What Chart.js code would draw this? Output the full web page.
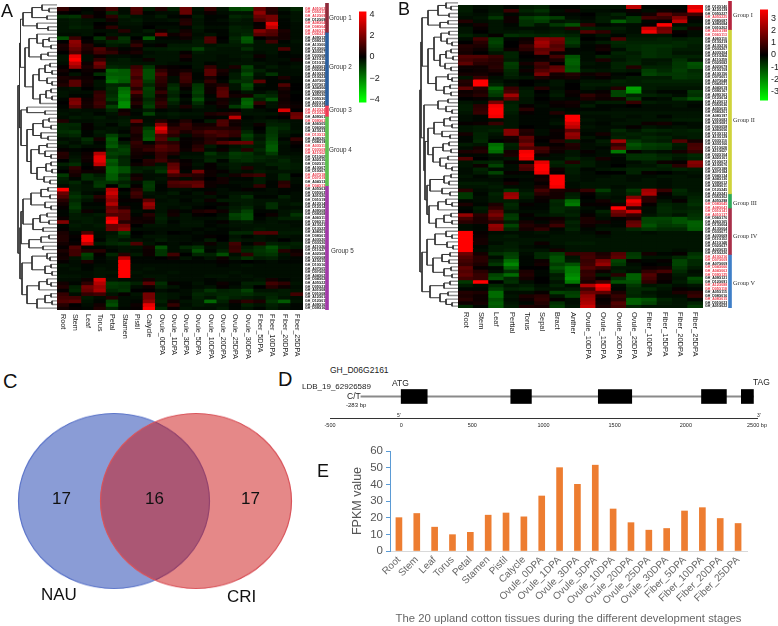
<!DOCTYPE html>
<html lang="en">
<head>
<meta charset="UTF-8">
<title>Cotton LBD genes</title>
<script src="https://cdn.jsdelivr.net/npm/chart.js"></script>
<style>
  body { margin: 0; background: #fff; font-family: "Liberation Sans", Arial, sans-serif; }
  canvas { position: absolute; }
  .t { position: absolute; white-space: nowrap; transform: translateY(-50%); color: #111; }
</style>
</head>
<body>
<script>
// heatmap values are log2 x 10
const tissuesA = ['Root','Stem','Leaf','Torus','Petal','Stamen','Pistil','Calycle','Ovule_0DPA','Ovule_1DPA','Ovule_3DPA','Ovule_5DPA','Ovule_10DPA','Ovule_20DPA','Ovule_25DPA','Ovule_30DPA','Fiber_5DPA','Fiber_10DPA','Fiber_20DPA','Fiber_25DPA'];
const heatA = [
[8,2,-1,3,10,-2,12,-4,5,-5,16,-3,8,-3,-11,-12,16,6,-3,-6],
[1,0,-2,1,-6,-2,11,-1,-2,-2,16,-2,2,-2,-3,-3,22,5,-1,-3],
[-7,-8,5,1,7,-5,-3,-2,-4,-1,1,-4,-1,-1,-6,-5,16,18,-2,-3],
[-3,-4,-3,-3,3,-3,-4,-2,-2,-3,5,-3,-1,-2,-4,-3,12,18,-1,-3],
[-3,-4,-3,0,-1,-3,-3,-1,-1,-1,6,-3,-1,-1,-3,-3,1,36,-1,-2],
[-3,-5,-4,1,7,-2,-2,0,-2,-2,-1,-4,-2,-2,-5,-4,2,30,-1,-2],
[-3,-3,-3,-2,-2,6,-2,-4,2,-3,3,-3,-1,-1,-5,-5,20,14,4,-2],
[-2,-2,-3,0,-3,-2,-3,-2,18,2,5,-2,-3,-1,-4,-6,14,12,3,-2],
[-12,9,0,-8,4,-8,0,-14,-1,-1,2,-3,12,0,-6,-14,0,4,3,-2],
[0,22,1,-3,-6,-7,3,-3,-2,-2,-2,-4,12,-1,-5,-13,-3,10,-1,-3],
[4,20,6,-1,-4,-3,8,-1,1,-4,-4,-4,-3,-4,-4,-4,-3,-3,-2,-2],
[3,16,5,12,4,-1,2,-4,-4,-5,-5,-10,-4,-3,-3,-7,-3,-3,12,-2],
[0,12,3,10,8,2,4,-2,-3,-3,1,-4,-3,-3,-3,-3,-2,-3,-1,-2],
[-3,36,-2,2,-2,-2,-1,-3,-3,-3,4,-3,-3,-2,-3,-4,2,-2,-1,-1],
[-3,40,-2,8,-3,-4,-2,2,-3,-3,1,-3,-3,-2,-2,-3,-1,-2,-2,2],
[-2,30,2,18,-4,-4,-3,-3,-3,-2,-2,-3,-1,-2,-3,-3,-3,-2,-1,-2],
[1,24,4,14,-6,-5,9,-8,2,1,0,-3,8,-2,4,-10,-2,-4,-2,-3],
[3,0,2,1,-16,-14,12,-12,7,2,3,-2,14,4,-2,-8,-5,-2,-2,-2],
[1,-3,1,-7,-14,-14,13,-12,12,2,9,-1,14,2,-4,-12,-3,-8,-2,-2],
[4,3,2,0,-16,-15,9,-12,8,-2,10,-1,4,0,-4,-8,-2,-1,4,-1],
[3,14,3,-3,-18,-14,13,-9,7,-2,9,-2,8,-1,-7,-7,14,-1,-1,-1],
[5,14,2,-3,-6,-5,12,-6,5,-6,4,-8,3,5,-3,-12,-2,-1,12,0],
[-2,-3,0,-2,-7,-16,6,-10,3,-8,1,-9,2,12,-3,-10,-1,-1,4,0],
[-3,-2,-2,7,-6,-18,14,-9,8,-6,-2,-10,2,14,1,-3,-2,-4,2,-1],
[-3,-1,-1,9,-7,-20,5,-9,3,-5,0,-8,-1,14,3,3,-8,-6,3,0],
[-1,18,2,8,-9,-18,3,-6,5,-8,-2,-12,-2,3,-2,-14,-5,-12,2,0],
[0,20,3,10,-4,-22,6,-8,8,-5,-1,-7,1,4,-3,-16,8,-3,3,1],
[-1,14,3,8,-10,-22,2,-10,6,-3,4,-4,-2,2,-9,-14,1,-3,4,2],
[-2,-3,-2,-2,-6,2,-2,-4,-1,-2,-1,-2,-2,-1,1,-3,-2,-1,34,0],
[-3,-2,-3,-1,-3,4,-1,-10,-3,-4,-3,-3,4,6,8,-3,-3,-3,3,16],
[-2,-4,-3,-4,-2,-3,-2,-2,-2,-3,-2,-2,1,-1,30,-1,-2,-1,0,18],
[5,-2,-2,-3,-3,-4,16,-2,6,1,5,0,-4,12,3,-2,-3,-4,-3,-2],
[-6,-6,1,-3,-1,-4,3,-3,22,3,9,3,3,12,2,-2,2,-5,-5,-2],
[-6,-5,1,-2,-3,-2,6,-9,36,8,8,5,6,6,5,-3,0,-8,-6,-2],
[-7,-8,-1,-4,-3,-1,6,-12,30,10,4,8,12,10,8,-6,-1,-8,-4,-3],
[-5,-6,-1,-3,-10,-4,3,-12,12,6,-2,5,8,11,7,-10,-4,-9,-3,-1],
[-2,-3,-7,3,-14,0,4,-14,14,-7,1,2,6,3,-1,-8,-3,-10,-1,8],
[-4,-2,-5,-1,-12,-4,8,-1,8,6,1,3,7,13,16,16,-5,-12,-3,2],
[-2,-4,-2,-2,-14,-8,6,6,14,10,1,6,-4,-1,-3,-5,-4,-14,-2,0],
[1,-1,0,1,-8,-10,4,8,12,10,2,8,-2,2,-4,6,-6,-14,-2,-1],
[6,-2,2,28,-10,-9,3,2,8,5,-2,-2,-8,-4,-9,-8,-4,-9,-2,-2],
[5,-3,3,36,-8,-5,2,-1,8,-1,-3,-3,-5,-5,-8,-7,-6,-5,-4,-3],
[0,-4,2,36,-14,-6,0,6,10,4,1,-2,-6,-1,-6,-7,-5,-4,-6,-3],
[-5,-7,-1,30,-12,-6,2,5,-3,14,2,-3,1,-3,-4,-3,-3,-5,-5,-4],
[-2,7,0,4,-16,-12,-4,-5,-6,16,1,-2,1,-2,-4,5,-3,-2,-5,-4],
[0,5,2,2,-16,-12,-5,-3,-8,22,-1,18,2,1,-3,-2,-4,-3,-3,-3],
[-9,3,-7,-4,-14,-6,2,-2,-2,10,8,6,2,-2,3,8,10,-2,-6,0],
[-5,-1,-7,-6,-14,-8,4,-2,-3,4,-2,4,0,3,-1,-1,-4,-2,-6,-2],
[-4,-6,-2,-8,-8,-5,-2,-8,-2,12,14,14,2,3,-2,-2,-4,-1,6,-2],
[-2,-4,-3,-9,0,-8,1,-9,-1,10,11,16,2,-1,-1,-2,8,-1,8,-1],
[40,-4,-3,-3,28,0,6,-8,-1,-2,-2,-1,-1,-2,-1,1,-1,-2,-1,-1],
[16,-6,-2,-1,32,-2,10,-3,-2,-4,-1,-3,2,-2,-3,-3,-2,-2,-1,-2],
[12,-8,-5,6,26,-1,8,-2,-3,-2,-2,-2,-3,-1,-4,-7,-1,-1,-5,-2],
[6,-6,-3,2,22,1,1,14,-2,-3,-1,-3,2,-4,-4,-4,-3,-3,-3,-2],
[3,-8,-1,-1,28,-1,-1,24,-3,-3,-2,-2,-1,1,-3,-4,-3,-7,-3,-4],
[1,-9,-2,-2,16,4,-1,20,-3,-2,-3,-1,0,-2,-4,-6,-2,-7,-2,-2],
[-1,-6,2,-1,18,14,-2,-1,-3,2,-1,4,6,2,-5,-10,-1,-1,-3,-4],
[-1,-4,-3,-4,12,12,-1,6,-4,3,-3,1,0,-2,-10,-12,0,2,-3,-8],
[2,-4,-4,-3,36,12,2,3,-5,-2,-3,-2,-2,-3,-9,-12,-1,-3,-5,-5],
[20,-3,-4,-3,40,6,3,2,-4,-1,-3,-3,-1,1,-3,-4,-2,-3,-2,-2],
[-1,-4,-3,-4,16,18,0,-3,-3,-2,-3,-3,-1,-2,-3,-3,-3,-3,-3,-2],
[1,-3,-3,-3,16,22,-2,-2,-2,-2,-2,-1,-2,-1,-2,-3,-4,-3,-3,-3],
[4,-1,12,-2,-3,-10,0,-1,-2,0,-1,-2,-1,-1,-6,-6,12,12,-4,-4],
[5,1,40,-2,-4,-6,-1,-3,-3,-2,-2,-1,1,0,-3,-1,-3,-2,-3,-2],
[5,0,40,-1,-5,-3,-3,-2,-4,-2,-2,-1,-4,0,-4,-3,-3,-2,0,-2],
[3,1,30,-4,-6,-7,12,-3,-1,-2,-1,-2,2,-3,10,-1,5,-5,-4,-5],
[1,12,-1,-1,-2,-3,-3,3,-12,-2,-6,-8,-2,-3,8,-4,-7,-12,-6,-4],
[4,10,5,6,-1,-3,-2,2,-8,-2,-3,-12,-1,-5,9,-6,-8,-10,6,2],
[2,10,-10,1,-6,6,-4,2,-8,10,0,-6,-5,-12,-2,7,-7,-8,-3,4],
[3,-3,-8,-1,-3,28,-1,-1,0,2,-3,-1,-3,2,-4,-8,-4,-5,-2,-1],
[1,-2,4,-1,-2,40,-1,-1,-1,-1,-1,-1,-1,1,-1,0,-1,-2,-1,-1],
[-3,-2,-1,-2,-2,40,-2,-2,-2,-2,-2,-2,-2,-1,-2,-3,-2,-2,-2,-2],
[-2,-3,-1,-3,-2,40,-2,-3,-2,-2,-2,-2,-2,-2,-2,-2,-2,-2,-2,-2],
[-2,-2,-2,-3,-3,40,-3,-2,-2,-3,-2,-2,-2,-2,-3,-2,-2,-2,-2,-2],
[-3,-3,-2,-3,-2,40,-2,-3,-3,-2,-2,-2,-3,-3,-2,-3,-2,-2,-2,-2],
[-2,-2,2,34,-3,-2,-2,3,-3,-2,-2,-2,-1,-2,-2,-2,-3,3,-1,-2],
[3,-1,7,28,-9,-8,-5,14,-7,1,-1,-3,-1,2,-1,-5,-5,10,7,-3],
[5,-5,18,24,-8,-7,-2,2,-5,-3,-1,-2,-3,1,-2,-4,0,6,2,-2],
[1,-6,16,26,-6,-8,0,0,-2,-1,-2,-4,-8,-5,-6,-10,-3,-3,-4,-3],
[8,-2,8,10,-3,1,-3,18,-4,-3,-2,-6,-5,-6,-6,-7,-5,-5,-4,10],
[10,10,-4,-2,5,-2,-2,18,-4,-3,-1,-5,-3,-7,-5,-4,-3,-6,-3,-2],
[12,14,-3,-1,-10,-2,-1,22,-5,2,-3,-4,-16,-5,3,7,4,-8,-14,-3],
[6,0,-2,3,-12,-2,2,36,-3,8,-2,-4,-3,-3,-1,-5,-3,-5,-3,-1],
[3,1,-1,5,-5,-1,1,40,-6,1,-3,-2,-2,-4,-1,-3,-1,-4,-2,-1]
];
const genesA = ['A01G0234','D05G1187','A12G0912','D12G0966','A08G0451','D08G0430','A06G1702','D06G2161','A09G1255','D09G1210','A13G0044','D13G0037','A03G0718','D03G0802','A11G1533','D11G1541','A02G0376','D02G0419','A10G2207','D10G2368','A07G0095','D07G0102','A04G0660','D04G0683','A05G3029','D05G3016','A01G1410','D01G1366','A12G2455','D12G2471','A09G0123','D09G0118','A06G0580','D06G0602','A13G1321','D13G1344','A08G2012','D08G1994','A03G1109','D03G0998','A11G0287','D11G0293','A02G1046','D02G1102','A10G0733','D10G0747','A07G1888','D07G1925','A04G1340','D04G1377','A05G0369','D05G0372','A01G2020','D01G1998','A12G1406','D12G1419','A09G0871','D09G0859','A06G1130','D06G1176','A13G2190','D13G2214','A08G0168','D08G0155','A03G2076','D03G2098','A11G2644','D11G2702','A02G0822','D02G0857','A10G1592','D10G1621','A07G0510','D07G0526','A04G0217','D04G0209','A05G2278','D05G2301','A01G0835','D01G0829','A12G0143','D12G0151','A09G1674','D09G1633'];
const redGenesA = [0,1,2,4,5,6,7,28,29,31,35,38,39,40,46,47,49];
const groupNamesA = ['Group 1','Group 2','Group 3','Group 4','Group 5'];
const groupSizesA = [8,20,3,19,34];
const groupColorsA = ['#8f2a3a','#2b5f9e','#f03a55','#5cc04f','#a23aa8'];
// dendrogram nodes: [height, left, right], 0 is a leaf
const treeA = [39,
  [37.5,
    [36.5,
      [34,[25,[15,0,[8,0,0]],[10,0,0]],[20,0,[9,0,0]]],
      [32,[28,[20,0,[14,[8,0,0],[6,0,0]]],[16,[9,0,0],0]],
          [24,[18,[12,[7,0,0],[5,0,0]],[10,0,[5,0,0]]],[17,[11,[6,0,0],[5,0,0]],0]]]],
    [36,[30,0,[12,0,0]],
        [30,[24,[14,[8,0,0],[6,0,0]],[16,0,[9,0,0]]],[26,[18,[10,0,0],[12,0,[6,0,0]]],[20,[11,[6,0,0],[5,0,0]],[13,0,[7,0,0]]]]]]],
  [37,
    [36,[34,[26,[16,[9,0,0],[7,0,0]],[12,0,[6,0,0]]],[24,[17,[10,0,0],[8,0,0]],[14,0,0]]],
        [28,[16,[8,0,0],0],[14,0,0]]],
    [35,[25,[10,0,[7,0,0]],[12,[6,0,0],[5,0,0]]],
        [30,[18,[10,0,[6,0,0]],0],[20,[12,[6,0,0],[5,0,0]],0]]]]];

const tissuesB = ['Root','Stem','Leaf','Pertial','Torus','Sepal','Bract','Anther','Ovule_10DPA','Ovule_15DPA','Ovule_20DPA','Ovule_25DPA','Fiber_10DPA','Fiber_15DPA','Fiber_20DPA','Fiber_25DPA'];
const heatB = [
[-4,-2,-3,-1,-4,-5,-1,-1,-3,-3,-3,28,-1,-1,-1,34],
[-4,-1,-3,8,-5,-7,-2,3,-2,-2,-1,2,-2,2,1,38],
[-3,-2,-4,-1,-3,-4,-1,-1,0,-3,-5,-1,3,14,8,10],
[-2,-3,-8,2,-9,-11,-9,-2,-1,-4,-3,-8,10,8,20,2],
[5,-2,-3,2,-7,-9,-3,-4,-2,-4,-14,-8,-1,1,28,-1],
[-1,3,-3,-1,-7,-3,-8,-12,7,-1,-2,-2,1,38,-2,-3],
[-3,1,-3,-2,-2,-2,-3,5,-5,-4,-4,-2,30,16,-5,3],
[-3,0,-3,-3,-4,-3,-4,-3,12,7,-3,-2,36,18,1,-2],
[-5,-3,1,-7,-6,-5,-6,-5,-1,-3,-1,-3,-3,-3,0,-2],
[-2,10,-9,-1,2,20,18,-8,0,-1,11,-4,-4,-5,-4,-5],
[0,6,-10,0,3,24,16,-9,-2,-4,-6,-5,-5,-5,-6,-5],
[5,4,-8,0,8,22,12,-6,-1,2,-5,-6,-7,-7,-6,-4],
[4,2,-6,2,6,14,14,-1,-1,3,-2,-6,-7,-6,-4,-4],
[3,0,-3,-5,1,16,2,-1,-2,0,-5,-4,-7,-6,-3,-3],
[12,12,8,-5,0,1,10,-12,-2,-5,-4,-5,-7,-6,-5,-5],
[10,8,6,-4,-1,2,4,-14,-2,4,-3,-5,-3,-3,-7,-3],
[14,6,5,-9,3,10,0,-14,-3,-2,-5,-6,-3,-4,-8,-12],
[2,2,6,-8,-1,8,14,-12,-2,-2,-5,5,-5,-5,-8,-11],
[1,2,4,-6,2,12,16,-13,-4,-3,-4,-3,-9,-6,-9,-6],
[3,3,1,-5,-1,18,3,5,2,4,-1,0,-10,-8,-8,-7],
[-3,8,-2,-4,-3,4,2,3,-1,1,-2,-4,-4,-4,-8,-7],
[5,38,-3,-1,0,-1,-3,-1,-3,-3,-5,-4,-5,-5,-5,-5],
[4,40,-5,-2,0,-2,-3,0,-4,-4,-4,-4,-4,-4,-4,-4],
[14,6,-14,8,-3,5,-2,0,-3,-2,5,-24,-4,-3,-3,-3],
[2,4,-10,10,-4,0,-3,2,-1,1,-10,-22,-3,-1,-1,-8],
[3,6,-8,24,-4,-1,-4,1,7,3,-10,-5,-5,-4,-2,-7],
[0,1,-3,14,-3,0,-2,-1,4,2,3,-9,-1,-2,-7,-12],
[-3,-2,18,-4,-3,-1,2,3,-2,-4,-4,8,-4,-3,-3,-2],
[-4,6,36,-5,1,-2,1,2,-4,-1,-1,0,-2,-2,-3,-1],
[-4,7,40,-5,6,-1,-2,-1,-1,-1,-2,-2,-2,-2,-2,-2],
[-3,8,40,-4,1,-1,5,-2,-3,-3,-3,-3,-3,-3,-3,-3],
[-2,-1,36,-3,-1,-1,-1,40,-2,-2,-3,-2,-3,-1,-3,-3],
[-2,-1,-2,-3,-1,-1,-2,38,-3,-2,-2,-3,-3,-3,-4,-4],
[1,2,8,-3,-1,-1,-3,32,-2,-1,-3,-3,2,3,-1,-2],
[-3,-4,-4,-3,0,-1,-1,28,-3,-2,-2,1,-3,-2,-3,-2],
[-3,-4,-5,20,5,-2,2,14,-2,-2,-6,-3,-6,-5,-4,-5],
[3,-5,-3,20,4,-2,1,22,-1,3,-4,-5,-4,-3,-4,-4],
[-1,-5,-2,3,14,1,1,20,-3,-1,-5,-4,-6,-5,-3,-4],
[-1,-6,0,2,12,0,6,-4,-1,-4,24,-8,-5,-4,12,3],
[-4,-3,-16,-5,18,-1,1,5,-2,-3,8,-12,-9,-8,-4,10],
[-2,3,-18,-4,12,10,3,4,-2,-1,14,-10,-8,-7,-3,11],
[4,5,-16,3,36,8,2,-3,1,-2,-18,1,-3,-2,3,8],
[-1,-1,-3,4,38,2,-2,-3,-1,-2,-2,-7,-7,-5,-4,-6],
[12,0,-2,-3,36,-2,-2,-5,-3,3,-1,-7,-7,-6,-3,-5],
[-3,-5,-6,1,-1,34,-5,5,-4,-2,-1,-2,-4,2,1,20],
[-3,2,-10,-2,12,38,-4,-5,-4,-2,0,-3,-3,-5,6,18],
[-2,-5,-2,-2,10,40,2,-4,-1,-3,-4,-5,-5,-4,-5,-4],
[-2,-4,-10,1,-1,36,1,-4,-2,0,0,-5,1,0,-2,-3],
[-3,-1,-3,-2,-2,2,40,-3,-2,-2,-3,-2,-2,-3,-3,-2],
[-2,-2,-2,0,-1,3,40,-3,-2,-3,-3,-2,-3,-2,-3,-3],
[-4,-4,-3,3,-2,1,38,-2,-3,-3,-3,-3,-3,-2,-3,-3],
[-3,-3,-4,-2,-2,4,36,-2,-3,-3,-2,-3,-3,-2,-3,-3],
[6,-2,-3,-8,-3,10,4,3,8,-9,-3,-8,24,8,-6,-3],
[-8,-1,-5,22,-5,6,3,-4,1,-4,-3,-6,26,1,-5,-4],
[-8,-2,-4,24,-4,2,3,-5,0,-3,-2,20,6,-1,-2,-5],
[-1,-2,-4,-4,-2,1,-6,-16,-1,3,-3,36,6,-3,1,-6],
[4,-1,4,-6,1,-1,-5,-18,1,1,3,30,1,-5,-4,-7],
[-1,-4,7,-5,-1,-1,-6,-5,-2,-1,40,6,-2,-6,-4,-5],
[0,-3,14,-3,-2,-2,-6,-4,-1,-5,18,30,-2,-6,-5,-6],
[22,6,18,-8,1,-3,-4,-5,1,-3,14,8,-3,-5,-3,-7],
[10,4,12,-9,-1,1,2,-3,4,-2,1,4,-10,-10,-12,-8],
[6,4,6,-4,3,-1,4,-5,4,3,-1,14,-10,-9,-12,-14],
[-2,-1,22,-10,5,3,9,-4,2,-2,-1,16,-12,-8,-9,-14],
[-2,-1,20,-6,3,7,-1,-5,-1,-3,-3,-6,-8,-6,-6,-13],
[40,1,-2,-2,-2,-3,-2,-3,-2,1,-3,-3,-2,-3,-3,-3],
[40,2,-3,-4,-2,-2,-3,-3,-3,-2,-3,-3,-3,-3,-3,-3],
[40,3,-3,-3,-3,-3,-3,-3,-3,-3,-3,-3,-3,-3,-3,-3],
[40,3,-2,-4,-3,2,-3,-4,-4,-3,-3,-3,-3,-3,-3,-3],
[40,-1,-4,-4,-2,-1,-2,-3,-3,-3,-3,-3,-3,-3,-3,-3],
[40,-2,-4,-5,-3,-3,3,-3,-3,-3,-3,-3,-3,-3,-2,-3],
[16,3,-7,-9,-2,-6,-9,8,9,4,12,-8,3,-1,1,-7],
[12,6,-2,-10,-1,-6,-12,-3,10,6,14,-9,-3,-3,-6,-9],
[10,6,-5,-16,-1,2,-12,-4,8,18,-10,1,-1,1,-10,-6],
[8,4,-8,-20,-1,3,-9,-12,9,22,-8,-2,0,-1,-10,-6],
[14,1,-1,-14,0,0,-12,-18,12,8,-3,-3,2,3,-8,-4],
[12,6,-2,-7,4,-1,-9,-18,7,2,-4,-2,7,10,-6,-2],
[14,8,-10,-16,5,-1,-4,-20,8,-4,6,-14,12,2,-4,-3],
[10,8,-12,-6,3,0,-5,-22,6,1,-7,-14,10,2,-3,-11],
[-8,38,0,-7,-2,0,-3,-18,4,10,-12,-12,7,1,-4,-9],
[-4,-2,-6,-3,-4,-2,-5,-2,26,38,-2,-8,-3,-4,-2,-3],
[-1,-1,-9,-5,-6,-3,-3,-4,10,32,-1,-6,-6,-3,1,-1],
[5,4,-16,-2,-2,1,-10,-9,16,14,4,-6,-3,-2,4,6],
[4,2,-16,-3,4,6,-3,-10,22,3,8,-5,-4,-2,-2,8],
[6,2,-12,-2,2,7,1,-2,24,1,6,-14,-12,-5,-3,-1],
[2,3,-14,-3,-1,5,-7,-2,26,2,12,-14,-10,-4,-3,-5],
[-6,-1,-13,-4,4,3,-9,-3,30,4,10,-5,-3,-3,-3,-8]
];
const genesB = ['D12G1406','A12G1390','D05G2278','A05G2255','D08G0871','A08G0849','D01G2020','A01G1987','D06G1130','A06G1102','D13G2190','A13G2163','D03G2076','A03G2041','D11G2644','A11G2598','D02G0822','A02G0790','D10G1592','A10G1560','D07G0510','A07G0488','D04G0217','A04G0199','D09G1674','A09G1622','D12G0143','A12G0139','D05G0369','A05G0351','D08G2012','A08G1975','D01G0835','A01G0812','D06G0580','A06G0561','D13G1321','A13G1299','D03G1109','A03G1066','D11G0287','A11G0271','D02G1046','A02G1011','D10G0733','A10G0704','D07G1888','A07G1843','D04G1340','A04G1302','D09G0123','A09G0117','D12G2455','A12G2410','D05G3029','A05G2987','D08G0451','A08G0433','D01G1410','A01G1377','D06G1702','A06G1655','D13G0044','A13G0040','D03G0718','A03G0695','D11G1533','A11G1489','D02G0376','A02G0358','D10G2207','A10G2164','D07G0095','A07G0090','D04G0660','A04G0637','D09G1255','A09G1218','D12G0912','A12G0887','D05G1187','A05G1156','D08G0168','A08G0159','D01G0234','A01G0222'];
const redGenesB = [3,7,8,56,57,58,59,71,72,74,75,76,79,80,83];
const groupNamesB = ['Group I','Group II','Group III','Group IV','Group V'];
const groupSizesB = [8,46,4,13,15];
const groupColorsB = ['#b5263f','#cfd33b','#2fa85a','#a8304a','#3f7fc8'];
const treeB = [38,
  [37,
    [36,[30,[20,[12,0,[7,0,0]],[9,0,0]],[18,[10,0,0],0]],
        [30,[24,[17,[9,0,0],[11,0,[6,0,0]]],[18,[12,[7,0,0],[5,0,0]],[13,0,[7,0,0]]]],
            [22,[10,0,[6,0,0]],[14,[8,0,0],[7,0,0]]]]],
    [34,[20,[10,0,0],[12,0,[6,0,0]]],
        [33,[30,[24,[14,[8,0,0],[6,0,0]],[16,0,[8,0,0]]],[25,[15,[9,0,0],[7,0,0]],[18,[10,0,0],[12,0,[6,0,0]]]]],
            [31,[28,[14,[7,0,0],[9,0,0]],[16,0,[8,0,0]]],
                [29,[20,[12,0,[6,0,0]],0],[22,[14,[7,0,0],[6,0,0]],0]]]]]],
  [36,
    [31,[23,[12,0,[6,0,0]],[11,0,[5,0,0]]],[25,[16,[8,0,0],[9,0,0]],[14,[7,0,0],[6,0,0]]]],
    [28,[14,[8,0,0],0],[18,[10,0,0],[12,0,[6,0,0]]]]]];

// venn
const vennSets = ['NAU','CRI'];
const vennCounts = [17,16,17];

// gene model, positions in bp
const exonStarts = [0,770,1385,2110,2390];
const exonEnds = [183,915,1620,2285,2475];
const geneSpan = [-283,2475];

// FPKM bars
const fpkmTissues = ['Root','Stem','Leaf','Torus','Petal','Stamen','Pistil','Calycle','Ovule_0DPA','Ovule_1DPA','Ovule_3DPA','Ovule_5DPA','Ovule_10DPA','Ovule_20DPA','Ovule_25DPA','Ovule_30DPA','Fiber_5DPA','Fiber_10DPA','Fiber_20DPA','Fiber_25DPA'];
const fpkmValues = [20,22.5,14.3,9.8,11.2,21.5,22.8,20.5,33,50,40,51.5,25.2,17,12.5,13.5,24,26,19.5,16.5];

Chart.defaults.font.family = '"Liberation Sans", Arial, sans-serif';
Chart.defaults.animation = false;
Chart.defaults.plugins.legend.display = false;
Chart.defaults.plugins.tooltip.enabled = false;

function newCanvas(left, top, w, h) {
  const c = document.createElement('canvas');
  c.width = w; c.height = h;
  c.style.left = left + 'px'; c.style.top = top + 'px';
  document.body.appendChild(c);
  return c;
}

function label(text, x, y, size, extra) {
  const s = document.createElement('span');
  s.className = 't';
  s.textContent = text;
  s.style.left = x + 'px'; s.style.top = y + 'px'; s.style.fontSize = size + 'px';
  Object.assign(s.style, extra || {});
  document.body.appendChild(s);
}

function heatColor(v, top) {
  const a = Math.min(1, Math.abs(v) / top);
  const c = Math.round(255 * a);
  return v >= 0 ? `rgb(${c},0,0)` : `rgb(0,${c},0)`;
}

function heatmap(left, top, w, h, labelW, tissues, rows, genes, reds, maxV, labelSize) {
  const datasets = rows.map((row, r) => ({
    data: row.map(() => [r, r + 1]),
    backgroundColor: row.map(v => heatColor(v, maxV)),
    grouped: false,
    barPercentage: 1,
    categoryPercentage: 1,
    inflateAmount: 0.4
  }));
  const canvas = newCanvas(left, top, w + labelW, h + 55);
  canvas.style.filter = 'blur(0.4px)'; // the picture is a soft jpeg
  new Chart(canvas, {
    type: 'bar',
    data: { labels: tissues, datasets },
    options: {
      responsive: false,
      layout: { padding: { bottom: 55 } },
      scales: {
        x: { grid: { display: false }, border: { display: false }, ticks: { display: false }, afterFit: s => { s.height = 0; } },
        y: {
          position: 'right', min: 0, max: rows.length, reverse: true,
          grid: { display: false, drawTicks: false }, border: { display: false },
          afterBuildTicks: s => { s.ticks = genes.map((g, i) => ({ value: i + 0.5 })); },
          afterFit: s => { s.width = labelW; },
          ticks: {
            autoSkip: false, padding: 2,
            font: { size: 3.5, weight: 'bold' },
            color: ctx => reds.includes(ctx.index) ? '#ea3344' : '#111',
            callback: (v, i) => 'GH_' + genes[i]
          }
        }
      }
    },
    plugins: [{
      id: 'tissueLabels',
      afterDraw(chart) {
        const g = chart.ctx, sx = chart.scales.x;
        g.save();
        g.font = labelSize + 'px "Liberation Sans", Arial, sans-serif';
        g.fillStyle = '#222';
        g.textBaseline = 'middle';
        tissues.forEach((t, i) => {
          g.save();
          g.translate(sx.getPixelForValue(i), chart.chartArea.bottom + 4);
          g.rotate(Math.PI / 2);
          g.fillText(t, 0, 0);
          g.restore();
        });
        g.restore();
      }
    }]
  });
}

function dendrogram(left, top, w, h, tree, nRows) {
  const leafSegs = [], innerSegs = [];
  let row = 0;
  const seg = (list, x0, y0, x1, y1) => list.push({ x: x0, y: y0 }, { x: x1, y: y1 }, { x: x1, y: null });
  function walk(n) {
    if (n === 0) { row++; return { x: 0, y: row - 0.5 }; }
    const a = walk(n[1]), b = walk(n[2]);
    seg(innerSegs, n[0], a.y, n[0], b.y);
    seg(a.x === 0 ? leafSegs : innerSegs, n[0], a.y, a.x, a.y);
    seg(b.x === 0 ? leafSegs : innerSegs, n[0], b.y, b.x, b.y);
    return { x: n[0], y: (a.y + b.y) / 2 };
  }
  walk(tree);
  const line = (data, color, width) => ({ data, borderColor: color, borderWidth: width, showLine: true, pointRadius: 0, spanGaps: false });
  new Chart(newCanvas(left, top, w, h), {
    type: 'scatter',
    data: { datasets: [line(innerSegs, '#333', 1), line(leafSegs, '#8a8a8a', 1.3)] },
    options: {
      responsive: false,
      layout: { autoPadding: false },
      scales: {
        x: { display: false, min: 0, max: w, reverse: true },
        y: { display: false, min: 0, max: nRows, reverse: true }
      }
    }
  });
}

function groupBars(left, top, w, h, sizes, colors) {
  const total = sizes.reduce((a, b) => a + b, 0);
  let at = 0;
  const datasets = sizes.map((n, i) => {
    const d = { data: [[at, at + n]], backgroundColor: colors[i], grouped: false, barThickness: 3 };
    at += n;
    return d;
  });
  new Chart(newCanvas(left, top, w, h), {
    type: 'bar',
    data: { labels: [''], datasets },
    options: {
      responsive: false,
      scales: {
        x: { display: false },
        y: { display: false, min: 0, max: total, reverse: true }
      }
    }
  });
}

function colorBar(left, top, w, h, barW, range, maxV, ticks, minus, fontSize) {
  new Chart(newCanvas(left, top, w, h), {
    type: 'bar',
    data: {
      labels: [''],
      datasets: [{
        data: [[-range, range]],
        barPercentage: 1, categoryPercentage: 1,
        backgroundColor(ctx) {
          const area = ctx.chart.chartArea;
          if (!area) return '#000';
          const g = ctx.chart.ctx.createLinearGradient(0, area.top, 0, area.bottom);
          const stop = (range - maxV) / (2 * range);
          g.addColorStop(0, '#f00'); g.addColorStop(stop, '#f00');
          g.addColorStop(0.5, '#000');
          g.addColorStop(1 - stop, '#0f0'); g.addColorStop(1, '#0f0');
          return g;
        }
      }]
    },
    options: {
      responsive: false,
      layout: { autoPadding: false },
      scales: {
        x: { display: false },
        y: {
          position: 'right', min: -range, max: range,
          grid: { display: false, drawTicks: false }, border: { display: false },
          afterBuildTicks: s => { s.ticks = ticks.map(v => ({ value: v })); },
          afterFit: s => { s.width = w - barW; },
          ticks: {
            autoSkip: false, padding: 3, color: '#222', font: { size: fontSize },
            callback: v => minus ? String(v).replace('-', '\u2212') : String(v)
          }
        }
      }
    }
  });
}

// panel A
dendrogram(12, 3, 45, 307, treeA, heatA.length);
heatmap(57, 3, 246, 307, 24, tissuesA, heatA, genesA, redGenesA, 40, 7.2);
groupBars(322, 3, 10, 307, groupSizesA, groupColorsA);
colorBar(359, 3, 26, 108, 7.5, 4.25, 4, [4, 2, 0, -2, -4], true, 9);

// panel B
dendrogram(413, 1, 45, 307, treeB, heatB.length);
heatmap(458, 1, 245, 307, 24, tissuesB, heatB, genesB, redGenesB, 38, 7.5);
groupBars(725, 1, 10, 307, groupSizesB, groupColorsB);
colorBar(760, 1, 18, 108, 8, 3.78, 3.78, [3, 2, 1, 0, -1, -2, -3], false, 9);

// panel C, squeezed a little with css because the circles in the picture are ellipses
const vennCanvas = newCanvas(0, 401, 300, 200);
vennCanvas.style.transform = 'scaleY(0.917)';
new Chart(vennCanvas, {
  type: 'bubble',
  data: {
    datasets: [
      { label: vennSets[0], data: [{ x: 114, y: 100, r: 95.5 }], backgroundColor: 'rgba(60,90,187,.6)', borderColor: '#5b74c9', borderWidth: 1.2, order: 2 },
      { label: vennSets[1], data: [{ x: 196, y: 100, r: 95.5 }], backgroundColor: 'rgba(203,17,17,.5)', borderColor: '#d9535a', borderWidth: 1.2, order: 1 }
    ]
  },
  options: {
    responsive: false,
    layout: { autoPadding: false },
    scales: {
      x: { display: false, min: 0, max: 300 },
      y: { display: false, min: 0, max: 200 }
    }
  }
});

// panel D
new Chart(newCanvas(300, 375, 478, 62), {
  type: 'bar',
  data: {
    labels: ['gene'],
    datasets: exonStarts.map((s, i) => ({ data: [[s, exonEnds[i]]], backgroundColor: '#000', grouped: false, barThickness: 14, order: 1 }))
      .concat([{ data: [geneSpan], backgroundColor: '#8a8a8a', grouped: false, barThickness: 1.5, order: 2 }])
  },
  options: {
    indexAxis: 'y',
    responsive: false,
    layout: { padding: { left: 30, right: 21 } },
    scales: {
      x: {
        min: -500, max: 2500,
        grid: { display: false, drawTicks: false },
        border: { color: '#333', width: 1 },
        afterFit: s => { s.height = 19; },
        ticks: {
          stepSize: 500, padding: 4, maxRotation: 0, color: '#222', font: { size: 5.5 },
          callback: v => v === 2500 ? '2500 bp' : String(v)
        }
      },
      y: { display: false }
    }
  }
});

// panel E
new Chart(newCanvas(340, 435, 420, 191), {
  type: 'bar',
  data: { labels: fpkmTissues, datasets: [{ data: fpkmValues, backgroundColor: '#ed7d31', barThickness: 6 }] },
  options: {
    responsive: false,
    layout: { padding: { top: 16, right: 13 } },
    scales: {
      x: {
        grid: { display: false, drawTicks: false },
        border: { color: '#d9d9d9', width: 1 },
        afterFit: s => { s.height = 75; },
        ticks: { autoSkip: false, minRotation: 45, maxRotation: 45, padding: 3, color: '#666', font: { size: 10 } },
        title: {
          display: true, text: 'The 20 upland cotton tissues during the different development stages',
          color: '#666', font: { size: 11.3 }, padding: { top: 2, bottom: 0 }
        }
      },
      y: {
        min: 0, max: 60,
        grid: { drawOnChartArea: false, color: '#5b9bd5', tickLength: 4 },
        border: { color: '#5b9bd5', width: 1 },
        afterFit: s => { s.width = 50; },
        ticks: { stepSize: 10, autoSkip: false, padding: 3, color: '#555', font: { size: 11.5 } },
        title: { display: true, text: 'FPKM value', color: '#555', font: { size: 12.5 }, padding: { top: 10, bottom: 0 } }
      }
    }
  }
});

// text that sits outside the axes
label('A', 1, 11, 18);
label('B', 398, 9, 18);
label('C', 3, 381, 20);
label('D', 278, 379, 20);
label('E', 317, 471, 18);

[17, 66, 109, 149, 250].forEach((y, i) => label(groupNamesA[i], i === 4 ? 331 : 329, y, 6.3, { color: '#333' }));
[14, 119, 202, 235, 282].forEach((y, i) => label(groupNamesB[i], 733, y, 6.3, { fontFamily: '"Liberation Serif", serif', color: '#333' }));

label(String(vennCounts[0]), 52, 499, 17);
label(String(vennCounts[1]), 145, 499, 17);
label(String(vennCounts[2]), 241, 499, 17);
label(vennSets[0], 41, 595, 17);
label(vennSets[1], 227, 597, 17);

label('GH_D06G2161', 330, 370, 8.5, { color: '#222' });
label('LDB_19_62926589', 302, 386, 8, { color: '#222' });
label('ATG', 392, 383, 8.5, { color: '#222' });
label('TAG', 753, 382, 8.5, { color: '#222' });
label('C/T', 347, 396, 8.5, { color: '#222' });
label('-283 bp', 346, 405, 6, { color: '#222' });
label("5'", 397, 415, 5, { color: '#222' });
label("3'", 757, 415, 5, { color: '#222' });
</script>
</body>
</html>
